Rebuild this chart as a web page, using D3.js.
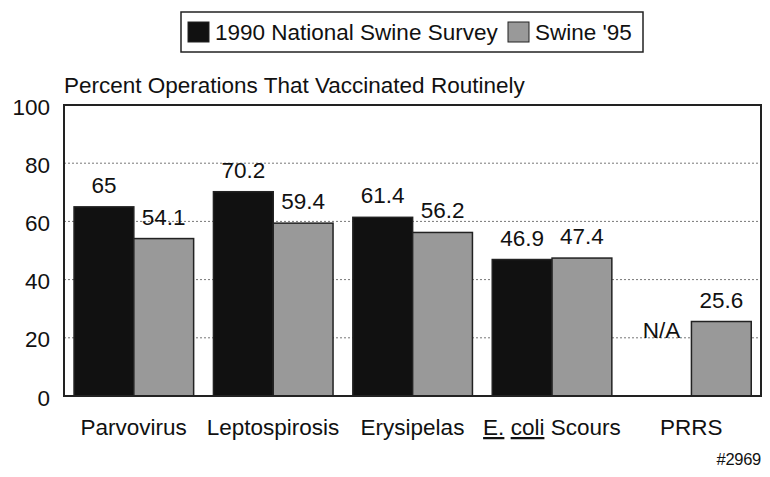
<!DOCTYPE html>
<html><head><meta charset="utf-8">
<script src="https://cdn.jsdelivr.net/npm/d3@7"></script>
<style>
html,body{margin:0;padding:0;background:#fff;}
text{font-family:"Liberation Sans",Arial,Helvetica,sans-serif;fill:#111;}
</style></head>
<body><svg id="c" width="770" height="477"></svg>
<script>
const categories = ["Parvovirus","Leptospirosis","Erysipelas","E. coli Scours","PRRS"];
const seriesNames = ["1990 National Swine Survey","Swine '95"];
const survey1990 = [65, 70.2, 61.4, 46.9, null];
const swine95 = [54.1, 59.4, 56.2, 47.4, 25.6];
const yTicks = [0,20,40,60,80,100];
const naLabel = "N/A";
const title = "Percent Operations That Vaccinated Routinely";
const footer = "#2969";
const colors = ["#111111","#999999"];

const FS = 22.5;
const svg = d3.select("#c");
const L=64, R=761, T=105, B=396;
const x = d3.scaleBand().domain(categories).range([L,R]).padding(0);
const bw = x.bandwidth();
const xs = d3.scaleBand().domain(seriesNames).range([bw*0.072, bw*0.93]).padding(0);
const y = d3.scaleLinear().domain([0,100]).range([B,T]);

// gridlines
svg.append("g").selectAll("line").data(yTicks.filter(t=>t>0&&t<100)).join("line")
  .attr("x1",L).attr("x2",R).attr("y1",d=>y(d)).attr("y2",d=>y(d))
  .attr("stroke","#777").attr("stroke-width",1).attr("stroke-dasharray","2,2");

// y tick labels
const yAxis = d3.axisLeft(y).tickValues(yTicks).tickSize(0).tickPadding(0).tickFormat(d3.format("d"));
const ya = svg.append("g").attr("transform",`translate(${L-14},0)`).call(yAxis);
ya.select(".domain").remove();
ya.selectAll("text").attr("font-size",FS).attr("dy","0.4em").attr("fill","#111")
  .attr("font-family","'Liberation Sans',Arial,sans-serif");

const data = categories.map((c,i)=>({c, vals:[survey1990[i], swine95[i]]}));
const groups = svg.append("g").selectAll("g").data(data).join("g")
  .attr("transform",d=>`translate(${x(d.c)},0)`);
groups.selectAll("rect").data(d=>d.vals.map((v,j)=>({v,s:seriesNames[j],j})).filter(e=>e.v!=null)).join("rect")
  .attr("x",e=>xs(e.s)).attr("width",xs.bandwidth())
  .attr("y",e=>y(e.v)).attr("height",e=>B-y(e.v))
  .attr("fill",e=>colors[e.j]).attr("stroke","#222").attr("stroke-width",1.5);
groups.selectAll("text.v").data(d=>d.vals.map((v,j)=>({v,s:seriesNames[j],j}))).join("text")
  .attr("class","v")
  .attr("x",e=>xs(e.s)+xs.bandwidth()/2)
  .attr("y",e=>e.v==null? y(20): y(e.v)-14)
  .attr("text-anchor","middle").attr("font-size",FS)
  .text(e=>e.v==null? naLabel : String(e.v));

// frame
svg.append("rect").attr("x",L).attr("y",T).attr("width",R-L).attr("height",B-T)
  .attr("fill","none").attr("stroke","#222").attr("stroke-width",2);

// category labels
const xl = svg.append("g").selectAll("text").data(categories).join("text")
  .attr("x",d=>x(d)+bw*0.5).attr("y",435).attr("text-anchor","middle")
  .attr("font-size",FS);
xl.each(function(d){
  const t=d3.select(this);
  if(d.startsWith("E. coli")){
    t.append("tspan").attr("text-decoration","underline").text("E.");
    t.append("tspan").text(" ");
    t.append("tspan").attr("text-decoration","underline").text("coli");
    t.append("tspan").text(" Scours");
  } else t.text(d);
});

// title
svg.append("text").attr("x",64).attr("y",93).attr("font-size",FS).text(title);

// legend
const lg = svg.append("g");
lg.append("rect").attr("x",181).attr("y",12).attr("width",462).attr("height",40)
  .attr("fill","#fff").attr("stroke","#222").attr("stroke-width",1.5);
const lx=[188,508];
seriesNames.forEach((s,i)=>{
  lg.append("rect").attr("x",lx[i]).attr("y",22).attr("width",21).attr("height",20)
    .attr("fill",colors[i]).attr("stroke","#222").attr("stroke-width",1);
  lg.append("text").attr("x",lx[i]+27).attr("y",40).attr("font-size",FS).text(s);
});

svg.append("text").attr("x",761).attr("y",465).attr("text-anchor","end").attr("font-size",16.5)
  .style("letter-spacing","-0.3px").text(footer);
</script></body></html>
